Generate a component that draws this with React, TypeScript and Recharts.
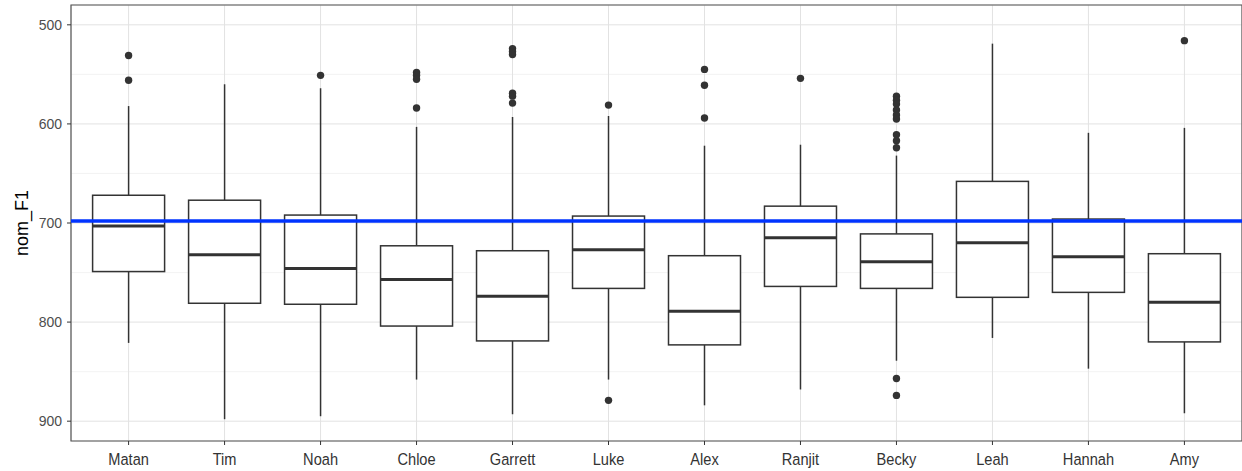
import React from 'react';
import {
  ComposedChart,
  Bar,
  Scatter,
  XAxis,
  YAxis,
  CartesianGrid,
  ReferenceLine,
  ReferenceArea,
} from 'recharts';

// speakers in plot order
const names = ['Matan', 'Tim', 'Noah', 'Chloe', 'Garrett', 'Luke', 'Alex', 'Ranjit', 'Becky', 'Leah', 'Hannah', 'Amy'];

// five-number summaries (axis is reversed, lo = top whisker end)
const whiskerLo = [582, 560, 564, 603, 593, 592, 622, 621, 632, 519, 609, 604];
const q1 = [672, 677, 692, 723, 728, 693, 733, 683, 711, 658, 696, 731];
const medians = [703, 732, 746, 757, 774, 727, 789, 715, 739, 720, 734, 780];
const q3 = [749, 781, 782, 804, 819, 766, 823, 764, 766, 775, 770, 820];
const whiskerHi = [821, 898, 895, 858, 893, 858, 884, 868, 839, 816, 847, 892];

const outliers = [
  [531, 556],
  [],
  [551],
  [548, 551, 555, 584],
  [524, 527, 530, 569, 572, 579],
  [581, 879],
  [545, 561, 594],
  [554],
  [572, 576, 580, 586, 591, 595, 611, 617, 624, 857, 874],
  [],
  [],
  [516],
];

const referenceValue = 698;
const yTicks = [500, 600, 700, 800, 900];
const yMinor = [550, 650, 750, 850];

const boxData = names.map((name, i) => ({
  name,
  pos: i + 1,
  lo: whiskerLo[i],
  q1: q1[i],
  med: medians[i],
  q3: q3[i],
  hi: whiskerHi[i],
}));

const outlierData = outliers.flatMap((vals, i) => vals.map((v) => ({ pos: i + 1, value: v })));

const INK = '#333333';

const BoxShape = (props: any) => {
  const { x, y, width, height, payload } = props;
  if (payload == null) return null;
  const top = Math.min(y, y + height);
  const span = Math.abs(height);
  const py = (v: number) => top + ((v - payload.lo) / (payload.hi - payload.lo)) * span;
  const cx = x + width / 2;
  return (
    <g>
      <line x1={cx} x2={cx} y1={py(payload.lo)} y2={py(payload.q1)} stroke={INK} strokeWidth={1.5} />
      <line x1={cx} x2={cx} y1={py(payload.q3)} y2={py(payload.hi)} stroke={INK} strokeWidth={1.5} />
      <rect
        x={x}
        y={py(payload.q1)}
        width={width}
        height={py(payload.q3) - py(payload.q1)}
        fill="#ffffff"
        stroke={INK}
        strokeWidth={1.5}
      />
      <line x1={x} x2={x + width} y1={py(payload.med)} y2={py(payload.med)} stroke={INK} strokeWidth={3} />
    </g>
  );
};

const Dot = (props: any) => {
  const { cx, cy } = props;
  return <circle cx={cx} cy={cy} r={3.7} fill={INK} />;
};

// condensed look for the speaker names
const NameTick = (props: any) => {
  const { x, y, payload } = props;
  return (
    <text
      transform={`translate(${x},${y}) scale(0.86,1)`}
      textAnchor="middle"
      dy="0.8em"
      fill="#333333"
      fontSize={17}
      fontFamily='"Liberation Sans", Arial, sans-serif'
    >
      {names[payload.value - 1] ?? ''}
    </text>
  );
};

export default function App() {
  return (
    <div style={{ width: 1242, height: 471, background: '#fff' }}>
      <style>{`body { margin: 0; }`}</style>
      <ComposedChart
        width={1242}
        height={471}
        data={boxData}
        margin={{ top: 5, right: 0, left: 0, bottom: 0 }}
      >
        <CartesianGrid horizontalValues={yMinor} vertical={false} stroke="#f0f0f0" strokeWidth={0.8} />
        <CartesianGrid stroke="#e2e2e2" strokeWidth={1} />
        <XAxis
          dataKey="pos"
          type="number"
          domain={[0.4, 12.6]}
          allowDataOverflow
          ticks={names.map((_, i) => i + 1)}
          interval={0}
          height={30}
          axisLine={false}
          tickSize={4}
          tickMargin={6}
          tickLine={{ stroke: INK }}
          tick={<NameTick />}
        />
        <YAxis
          type="number"
          reversed
          domain={[480, 920]}
          allowDataOverflow
          ticks={yTicks}
          width={71}
          axisLine={false}
          tickSize={4}
          tickMargin={5}
          tickLine={{ stroke: INK }}
          tick={{ fill: '#4d4d4d', fontSize: 14, fontFamily: '"Liberation Sans", Arial, sans-serif' }}
          label={{
            value: 'nom_F1',
            angle: -90,
            position: 'insideLeft',
            offset: 22,
            style: { textAnchor: 'middle', fill: '#000', fontSize: 18, fontFamily: '"Liberation Sans", Arial, sans-serif' },
          }}
        />
        <Bar
          dataKey={(d: any) => [d.lo, d.hi]}
          barSize={72}
          shape={<BoxShape />}
          isAnimationActive={false}
        />
        <Scatter data={outlierData} dataKey="value" shape={<Dot />} isAnimationActive={false} />
        <ReferenceLine y={referenceValue} stroke="#0033ff" strokeWidth={3.5} />
        <ReferenceArea x1={0.4} x2={12.6} y1={480} y2={920} fill="none" stroke="#555555" strokeWidth={1.2} />
      </ComposedChart>
    </div>
  );
}
